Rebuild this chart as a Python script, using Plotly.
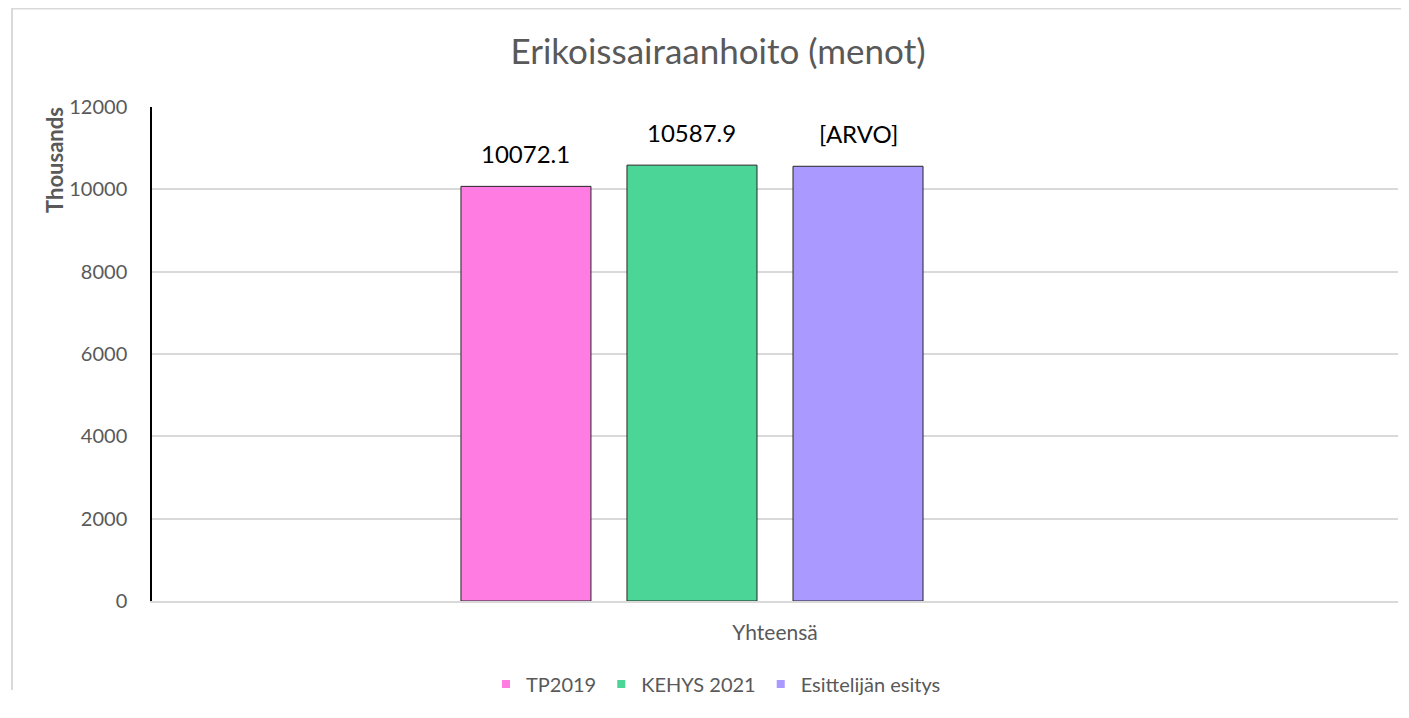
import plotly.graph_objects as go

categories = ["Yhteensä"]
series_names = ["TP2019", "KEHYS 2021", "Esittelijän esitys", ""]
series_values = [[10072.1], [10587.9], [10560.0], [None]]
series_labels = ["10072.1", "10587.9", "[ARVO]", ""]
series_colors = ["#FF7DE3", "#4BD596", "#AA99FF", "#FFFFFF"]
y_ticks = [0, 2000, 4000, 6000, 8000, 10000, 12000]

OFF = 8  # page body margin
W, H = 1409 - OFF, 718 - OFF
L, R, T, B = 152 - OFF, 11, 107 - OFF, 117
pw, ph = W - L - R, H - T - B

BARGAP = 0.467
BARGROUPGAP = 0.217

FONT = "Lato"
GRAY = "#595959"

fig = go.Figure()
n_series = len(series_names)
slot = (1 - BARGAP) / n_series
annotations = []
for i, (name, vals, lab, col) in enumerate(zip(series_names, series_values, series_labels, series_colors)):
    fig.add_trace(go.Bar(
        x=categories, y=vals, name=name, showlegend=False,
        marker=dict(color=col, line=dict(color="#262626", width=1)),
        hoverinfo="skip" if vals[0] is None else None,
    ))
    if name:
        fig.add_trace(go.Scatter(
            x=[None], y=[None], mode="markers", name=name,
            marker=dict(symbol="square", size=8, color=col),
        ))
    if lab:
        for ci, v in enumerate(vals):
            annotations.append(dict(
                text=lab, x=ci + (i - (n_series - 1) / 2) * slot, y=v, xref="x", yref="y",
                xanchor="center", yanchor="bottom", yshift=16, showarrow=False,
                font=dict(family=FONT, size=24, color="#000000"),
            ))

def px(x):
    return (x - OFF - L) / pw

def py(y):
    return (H - B - (y - OFF)) / ph

shapes = [
    dict(type="line", xref="paper", yref="paper", x0=px(12), x1=px(1420), y0=py(8.5), y1=py(8.5),
         line=dict(color="#D9D9D9", width=2)),
    dict(type="line", xref="paper", yref="paper", x0=px(12), x1=px(12), y0=py(8), y1=py(690),
         line=dict(color="#D9D9D9", width=2)),
]

annotations.append(dict(text="<b>Thousands</b>", textangle=-90, xref="paper", yref="paper",
                        x=px(55), y=py(160), xanchor="center", yanchor="middle", showarrow=False,
                        font=dict(family=FONT, size=22, color=GRAY)))

fig.update_layout(
    width=W, height=H,
    margin=dict(l=L, r=R, t=T, b=B),
    paper_bgcolor="white", plot_bgcolor="white",
    barmode="group", bargap=BARGAP, bargroupgap=BARGROUPGAP,
    title=dict(text="Erikoissairaanhoito (menot)", x=(718 - OFF) / W, xref="container", xanchor="center",
               y=1 - (52 - OFF) / H, yanchor="middle",
               font=dict(family=FONT, size=35, color=GRAY)),
    xaxis=dict(showgrid=False, showline=True, linecolor="#D9D9D9", linewidth=2,
               ticks="", tickfont=dict(family=FONT, size=21, color=GRAY),
               ticklabelstandoff=12),
    yaxis=dict(range=[0, 12000], tickvals=y_ticks, ticktext=[str(t) for t in y_ticks],
               showgrid=True, gridcolor="#D9D9D9", gridwidth=1.5,
               showline=True, linecolor="#000000", linewidth=1.5, zeroline=False,
               ticks="", tickfont=dict(family=FONT, size=20, color=GRAY),
               ticklabelstandoff=19),
    legend=dict(orientation="h", x=(716 - OFF) / W, xref="container", xanchor="center",
                y=1 - (684 - OFF) / H, yref="container", yanchor="middle",
                font=dict(family=FONT, size=20, color=GRAY), itemwidth=30,
                bgcolor="rgba(0,0,0,0)"),
    shapes=shapes,
    annotations=annotations,
)

fig.write_html("out.html")
